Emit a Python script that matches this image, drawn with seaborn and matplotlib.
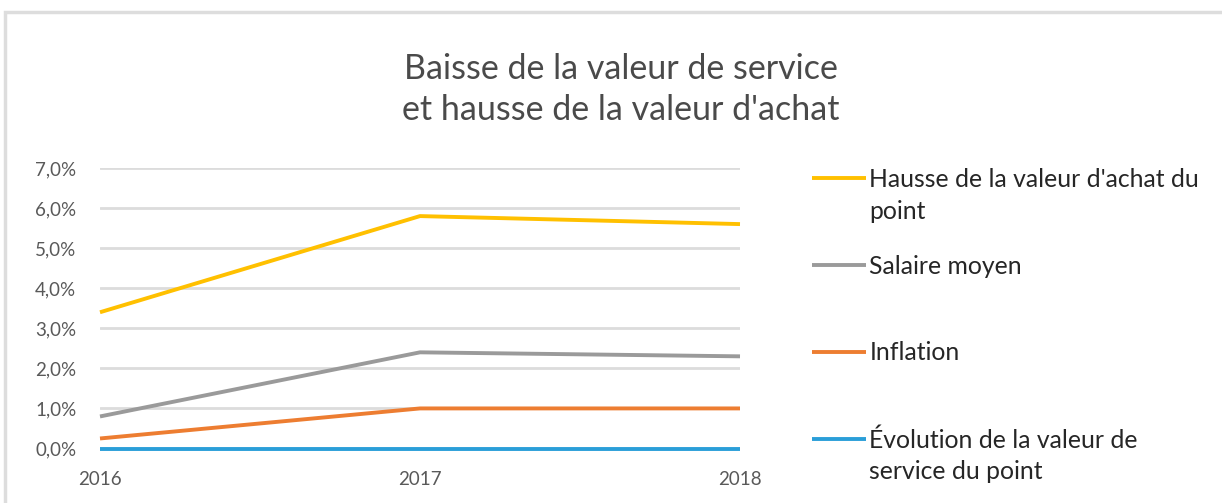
import matplotlib
matplotlib.use("Agg")
import matplotlib.pyplot as plt
import matplotlib.ticker as mticker
from matplotlib.patches import Rectangle
from matplotlib.legend_handler import HandlerLine2D
import seaborn as sns
import pandas as pd

years = [2016, 2017, 2018]
series_names = [
    "Hausse de la valeur d'achat du\npoint",
    "Salaire moyen",
    "Inflation",
    "Évolution de la valeur de\nservice du point",
]
hausse_achat = [3.4, 5.8, 5.6]
salaire_moyen = [0.8, 2.4, 2.3]
inflation = [0.25, 1.0, 1.0]
valeur_service = [0.0, 0.0, 0.0]
colors = ["#FFC000", "#9A9A9A", "#ED7D31", "#2A9ED8"]
title = "Baisse de la valeur de service\net hausse de la valeur d'achat"

values = [hausse_achat, salaire_moyen, inflation, valeur_service]
rows = []
for name, vals in zip(series_names, values):
    for y, v in zip(years, vals):
        rows.append({"Année": y, "Valeur": v, "Série": name})
df = pd.DataFrame(rows)

sns.set_theme(style="white")
plt.rcParams["font.family"] = ["Lato", "DejaVu Sans"]

fig = plt.figure(figsize=(12.22, 5.03), dpi=100)
ax = fig.add_axes([100 / 1222, 1 - 448.5 / 503, (740 - 100) / 1222, (448.5 - 168) / 503])

sns.lineplot(data=df, x="Année", y="Valeur", hue="Série", hue_order=series_names,
             palette=colors, linewidth=2.8, ax=ax, legend=True, zorder=3)
for ln in ax.get_lines():
    ln.set_clip_on(False)
    ln.set_solid_capstyle("butt")

ax.set_xlim(2016, 2018)
ax.set_ylim(0, 7)
ax.set_xticks(years)
ax.set_xticklabels([str(y) for y in years])
ax.set_yticks(range(0, 8))
ax.yaxis.set_major_formatter(mticker.FuncFormatter(lambda v, p: f"{v:.1f}%".replace(".", ",")))
ax.grid(axis="y", color="#DCDCDC", linewidth=2)
ax.grid(axis="x", visible=False)
for s in ax.spines.values():
    s.set_visible(False)
ax.tick_params(axis="both", length=0, labelsize=13.5, colors="#595959")
ax.tick_params(axis="y", pad=17)
ax.tick_params(axis="x", pad=16)
ax.set_xlabel("")
ax.set_ylabel("")


class FirstLineHandler(HandlerLine2D):
    def __init__(self, shift, **kw):
        super().__init__(**kw)
        self.shift = shift

    def create_artists(self, legend, orig_handle, xdescent, ydescent, width, height, fontsize, trans):
        arts = super().create_artists(legend, orig_handle, xdescent, ydescent, width, height, fontsize, trans)
        for a in arts:
            yd = a.get_ydata()
            a.set_ydata([v + self.shift * fontsize for v in yd])
        return arts


handles, labels = ax.get_legend_handles_labels()
ax.legend_.remove()
labels2 = [l if "\n" in l else l + "\n" for l in labels]
fs = 17.8
leg = fig.legend(handles, labels2, loc="upper left", bbox_to_anchor=(812 / 1222, 1 - 168 / 503),
                 frameon=False, fontsize=fs, handlelength=2.2, handletextpad=0.12,
                 labelspacing=1.3, borderaxespad=0, borderpad=0,
                 handler_map={h: FirstLineHandler(0.72) for h in handles})
for t in leg.get_texts():
    t.set_color("#262626")
    t.set_linespacing(1.45)

fig.text(621 / 1222, 1 - 89.5 / 503, title, ha="center", va="center", fontsize=24.5,
         color="#4A4A4A", linespacing=1.33)

fig.patches.append(Rectangle((5 / 1222, -0.1), 1.2, 1 - 12 / 503 + 0.1, transform=fig.transFigure,
                             fill=False, edgecolor="#DDDDDD", linewidth=2.5))

fig.savefig("out.png", dpi=100, facecolor="white")
